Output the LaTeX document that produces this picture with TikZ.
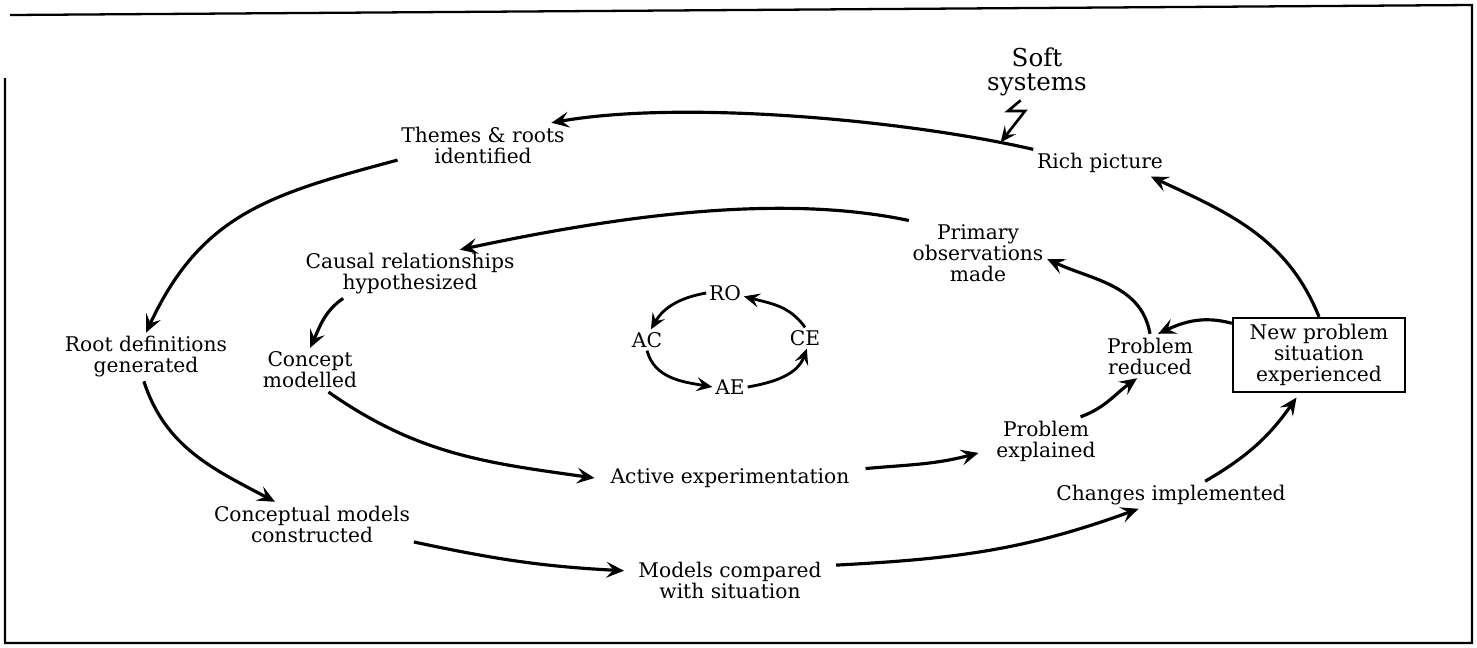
\documentclass[tikz,border=0pt]{standalone}
\usepackage{fontspec}
\setmainfont{DejaVu Serif}
\usetikzlibrary{arrows.meta}

\begin{document}
\begin{tikzpicture}[x=0.02cm, y=0.02cm,
    stage/.style={align=center, inner sep=2pt, font=\fontsize{11.5}{12}\selectfont},
    newsit/.style={stage, draw, line width=1.4pt, minimum width=3.44cm, minimum height=1.48cm},
    kolb/.style={inner sep=1.5pt, font=\fontsize{11.5}{12}\selectfont},
    cycle/.style={line width=1.8pt, -{Stealth[length=10pt, width=9pt, inset=4pt]}},
    smallcycle/.style={line width=1.6pt, -{Stealth[length=9pt, width=8pt, inset=3.5pt]}}
 ]
\useasboundingbox (0,0) rectangle (1477,-647);
\draw[line width=1.3pt] (5,-78) -- (5,-643) -- (1472,-643) -- (1472,-5) -- (10,-15);

\node[stage, font=\fontsize{14}{14}\selectfont] (soft) at (1037,-72) {Soft\\systems};
\node[stage] (rich) at (1100,-163) {Rich picture};
\node[stage] (themes) at (483,-145) {Themes \& roots\\identified};
\node[stage] (rootdef) at (146,-357) {Root definitions\\generated};
\node[stage] (conceptual) at (312,-524) {Conceptual models\\constructed};
\node[stage, inner xsep=8pt] (compared) at (730,-580) {Models compared\\with situation};
\node[stage] (changes) at (1171,-495) {Changes implemented};
\node[newsit] (newprob) at (1319,-355) {New problem\\situation\\experienced};

\node[stage] (primary) at (978,-253) {Primary\\observations\\made};
\node[stage] (causal) at (410,-274) {Causal relationships\\hypothesized};
\node[stage] (concept) at (310,-370) {Concept\\modelled};
\node[stage, inner xsep=9pt] (active) at (730,-478) {Active experimentation};
\node[stage, inner xsep=10pt] (explained) at (1046,-441) {Problem\\explained};
\node[stage] (reduced) at (1150,-356) {Problem\\reduced};

\node[kolb] (RO) at (725,-293) {RO};
\node[kolb] (AC) at (647,-340) {AC};
\node[kolb] (CE) at (805,-338) {CE};
\node[kolb] (AE) at (730,-387) {AE};

% outer loop
\draw[cycle] (rich.north west) to[out=167, in=10, looseness=0.7] coordinate[pos=0.08] (hit) (themes.18);
\draw[cycle] (themes.190) to[out=195, in=65, looseness=1.1] (rootdef.north);
\draw[cycle] (rootdef.-95) to[out=-72, in=152] (conceptual.149);
\draw[cycle] (conceptual.-10) to[out=-12, in=177] (compared.175);
\draw[cycle] (compared.8) to[out=3, in=200] (changes.203);
\draw[cycle, shorten >=3pt] (changes.22) to[out=30, in=235] (newprob.-117);
\draw[cycle] (newprob.north) to[out=112, in=-25] (rich.-15);
\draw[line width=1.5pt, -{Stealth[length=9pt, width=8pt, inset=3.5pt]}]
    (soft.240) -- (1008,-111) -- (1025,-111) -- (hit);

% inner loop
\draw[cycle] (newprob.160) to[out=165, in=25] (reduced.70);
\draw[cycle] (reduced.north) to[out=100, in=-25] (primary.-5);
\draw[cycle] (primary.north west) to[out=168, in=12, looseness=0.8] (causal.26);
\draw[cycle] (causal.200) to[out=215, in=65] (concept.north);
\draw[cycle] (concept.-50) to[out=-35, in=172] (active.west);
\draw[cycle] (active.4) to[out=5, in=195] (explained.190);
\draw[cycle] (explained.35) to[out=20, in=215] (reduced.-120);

% learning cycle
\draw[smallcycle] (RO.west) to[out=190, in=60] (AC.70);
\draw[smallcycle] (AC.south) to[out=-75, in=170] (AE.west);
\draw[smallcycle] (AE.east) to[out=10, in=-110] (CE.-80);
\draw[smallcycle] (CE.north) to[out=125, in=-15] (RO.-10);

\end{tikzpicture}
\end{document}
